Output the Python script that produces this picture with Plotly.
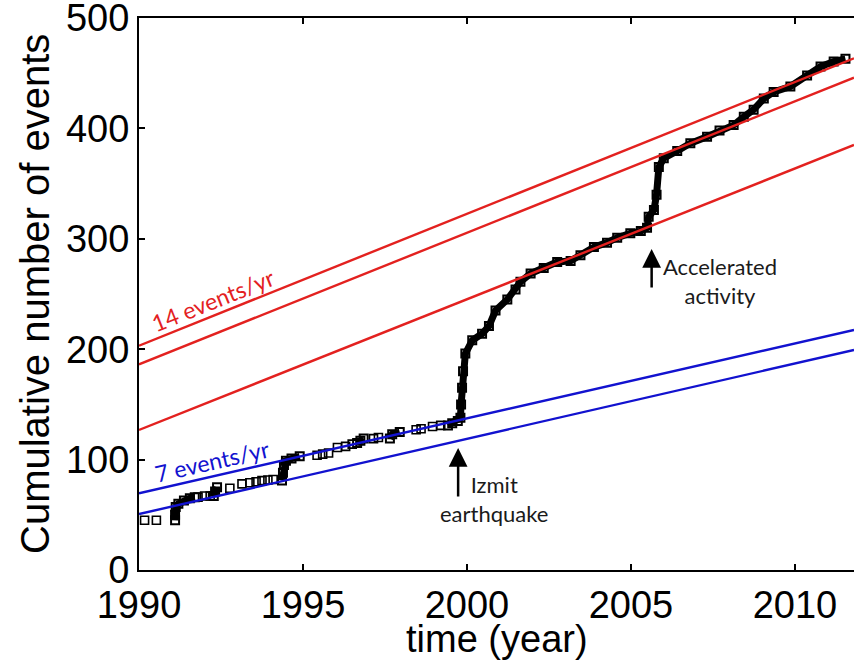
import plotly.graph_objects as go

# ---------------- data ----------------
# isolated events (open squares)
sparse_year = [1990.17, 1990.53, 1991.8, 1992.0, 1992.17, 1992.77, 1993.14, 1993.38,
               1993.57, 1993.75, 1993.93, 1994.09, 1995.43, 1995.6, 1995.78, 1996.05,
               1996.3, 1996.5, 1997.15, 1997.3, 1998.45, 1998.6, 1998.95, 1999.2]
sparse_count = [45, 45, 66, 67, 67, 74, 78, 79, 80, 81, 81.5, 82, 104, 105, 106, 111,
                112, 114, 119, 120, 127, 128, 130, 131]

# bursts / dense parts of the catalogue (each list is one continuous run)
dense_year = [
    [1991.1, 1991.1, 1991.12, 1991.2, 1991.37, 1991.55, 1991.7],
    [1992.28, 1992.32, 1992.38],
    [1994.36, 1994.39, 1994.42, 1994.48, 1994.65, 1994.9],
    [1996.65, 1996.75, 1996.85],
    [1997.65, 1997.72, 1997.95],
    [1999.42, 1999.55, 1999.72, 1999.8, 1999.82, 1999.85, 1999.88, 1999.95, 2000.16,
     2000.46, 2000.67, 2000.87, 2001.23, 2001.48, 2001.63, 2001.94, 2002.34, 2002.75,
     2003.16, 2003.46, 2003.87, 2004.27, 2004.58, 2004.98, 2005.3, 2005.49, 2005.54,
     2005.7, 2005.78, 2005.85, 2006.0, 2006.41, 2006.81, 2007.32, 2007.7, 2008.13,
     2008.44, 2008.74, 2009.05, 2009.35, 2009.86, 2010.37, 2010.78, 2011.18, 2011.54],
]
dense_count = [
    [45, 50, 57, 60, 63, 65, 66],
    [67, 71, 75],
    [81, 88, 95, 99, 101, 103],
    [115, 117, 119],
    [119, 123, 125],
    [131, 133, 135, 138, 150, 165, 180, 196, 208,
     214, 221, 235, 245, 254, 261, 268.5, 273.5, 279,
     280, 285, 292.5, 296.5, 301, 305, 307, 310, 320,
     326, 340, 365, 373, 379.5, 386.5, 392.5, 398, 403,
     410.5, 417, 427, 433, 438, 448, 456, 460.5, 463],
]

# reference rate lines: value at start and end year
line_years = [1990.0, 2011.8]
red_start = [203.2, 186.3, 126.8]
red_end = [463.5, 446.0, 385.0]
blue_start = [69.5, 50.7]
blue_end = [217.4, 199.3]

x_ticks = [1990, 1995, 2000, 2005, 2010]
y_ticks = [0, 100, 200, 300, 400, 500]

RED = "#e3211f"
BLUE = "#1212cf"

fig = go.Figure()

for xs, ys in zip(dense_year, dense_count):
    fig.add_trace(go.Scatter(
        x=xs, y=ys, mode="lines+markers",
        line=dict(color="black", width=7),
        marker=dict(symbol="square-open", size=8, color="black", line=dict(width=2)),
        showlegend=False, hoverinfo="skip", cliponaxis=False))

fig.add_trace(go.Scatter(
    x=sparse_year, y=sparse_count, mode="markers",
    marker=dict(symbol="square-open", size=8, color="black", line=dict(width=1.6)),
    showlegend=False))

for s, e in zip(red_start, red_end):
    fig.add_trace(go.Scatter(x=line_years, y=[s, e], mode="lines",
                             line=dict(color=RED, width=2.4), showlegend=False))
for s, e in zip(blue_start, blue_end):
    fig.add_trace(go.Scatter(x=line_years, y=[s, e], mode="lines",
                             line=dict(color=BLUE, width=2.4), showlegend=False))

ann_font = dict(family="Lato, 'Open Sans', sans-serif", size=22, color="#1a1a1a")
title_font = dict(family="'Liberation Sans', Arial, Helvetica, sans-serif", size=38, color="black")
annotations = [
    dict(x=1999.73, y=110.5, ax=0, ay=50, text="", showarrow=True, arrowhead=2,
         arrowsize=1.5, arrowwidth=2.5, arrowcolor="black", standoff=0),
    dict(x=2005.63, y=290.8, ax=0, ay=40, text="", showarrow=True, arrowhead=2,
         arrowsize=1.5, arrowwidth=2.5, arrowcolor="black", standoff=0),
    dict(x=2000.83, y=64.5, text="Izmit<br>earthquake", showarrow=False, font=ann_font),
    dict(x=2007.71, y=261.5, text="Accelerated<br>activity", showarrow=False, font=ann_font),
    dict(x=1992.26, y=244.6, text="14 events/yr", showarrow=False, textangle=-21.8,
         font=dict(family="Lato, 'Open Sans', sans-serif", size=23, color=RED)),
    dict(x=1992.23, y=98.3, text="7 events/yr", showarrow=False, textangle=-12.9,
         font=dict(family="Lato, 'Open Sans', sans-serif", size=23, color=BLUE)),
    # axis titles
    dict(xref="paper", yref="paper", x=0.5, y=0, yshift=-69, yanchor="middle",
         text="time (year)", showarrow=False, font=title_font),
    dict(xref="paper", yref="paper", x=0, y=0.5, xshift=-104, xanchor="center",
         yanchor="middle", textangle=-90, text="Cumulative number of events",
         showarrow=False, font=dict(family="'Liberation Sans', Arial, sans-serif",
                                    size=40, color="black")),
]

tick_font = dict(family="'Liberation Sans', Arial, Helvetica, sans-serif", size=38, color="black")

fig.update_layout(
    width=854, height=669,
    margin=dict(l=139, r=0, t=18, b=99),
    paper_bgcolor="white", plot_bgcolor="white",
    annotations=annotations,
    xaxis=dict(range=[1990, 2011.8], tickvals=x_ticks, ticktext=[str(v) for v in x_ticks],
               ticks="inside", ticklen=6, tickwidth=1.5, tickcolor="black",
               showline=True, linecolor="black", linewidth=2, mirror="ticks",
               showgrid=False, zeroline=False, tickfont=tick_font, automargin=False,
               ticklabeloverflow="allow"),
    yaxis=dict(range=[0, 500], tickvals=y_ticks, ticktext=[str(v) for v in y_ticks],
               ticks="inside", ticklen=6, tickwidth=1.5, tickcolor="black",
               showline=True, linecolor="black", linewidth=2, mirror=False,
               showgrid=False, zeroline=False, tickfont=tick_font, automargin=False,
               ticklabeloverflow="allow"),
)

fig.write_html("out.html", config={"displayModeBar": False},
               post_script="document.body.style.margin='0';document.body.style.overflow='hidden';")
